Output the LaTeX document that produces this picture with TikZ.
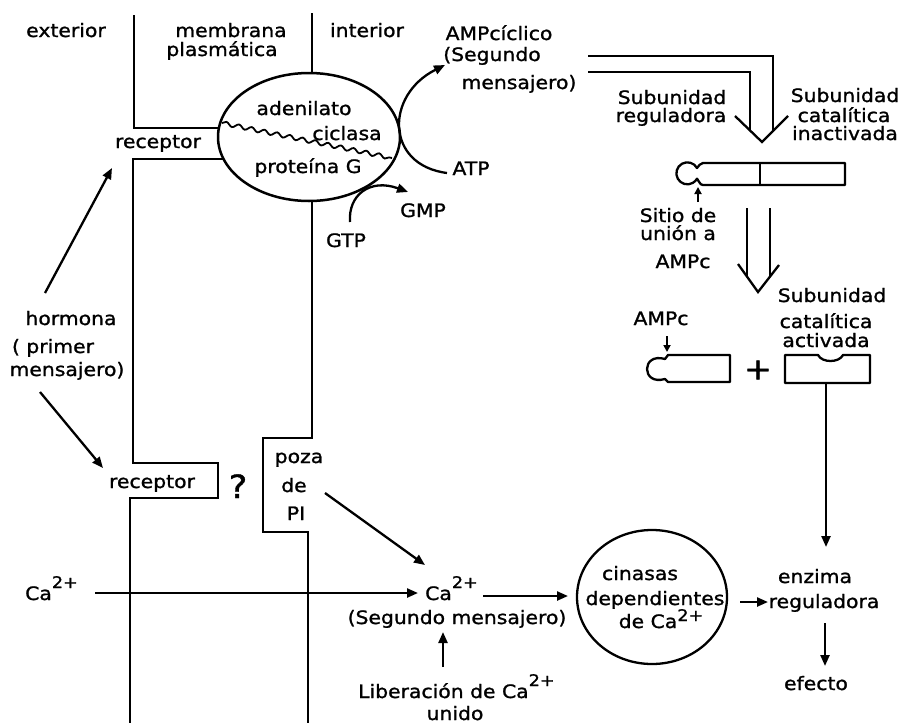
\documentclass[tikz,border=0pt]{standalone}
\usepackage{fontspec}
\setmainfont{DejaVu Sans}[FakeStretch=1.1, FakeBold=1.2]
\usetikzlibrary{arrows.meta,shapes.geometric,decorations.pathmorphing}
\newcommand\supx[1]{\raisebox{12pt}{\fontsize{16}{16}\selectfont #1}}
\newcommand\supl[1]{\raisebox{7pt}{\fontsize{16}{16}\selectfont #1}}
\begin{document}
\begin{tikzpicture}[x=1pt,y=-1pt,
  lbl/.style={anchor=base, inner sep=0pt, font=\fontsize{18.5}{21}\selectfont},
  memb/.style={line width=2.5pt, line join=miter},
  arr/.style={line width=2.3pt, -{Triangle[length=11pt,width=9pt]}},
  sarr/.style={line width=2pt, -{Triangle[length=7pt,width=7pt]}},
  hol/.style={line width=2.3pt, line join=miter},
  prot/.style={line width=2.3pt, line join=round}]
\useasboundingbox (0,0) rectangle (909,723);

% membrane
\node[draw, ellipse, line width=2.5pt, minimum width=182pt, minimum height=128pt, inner sep=0pt] (ac) at (309,137) {};
\draw[memb] (134,15) -- (134,128) -- (219,128);
\draw[memb] (223.5,159) -- (133,159) -- (133,463) -- (218,463) -- (218,498) -- (130,498) -- (130,723);
\draw[memb] (312,13) -- (312,73);
\draw[memb] (312,201) -- (312,438) -- (263,438) -- (263,532) -- (308,532) -- (308,723);
\draw[line width=1.8pt, decorate, decoration={snake, segment length=13pt, amplitude=2pt}] (222,123) -- (392,158);

% labels top-left
\node[lbl] (ext) at (66,37) {exterior};
\node[lbl] (mem1) at (231,37) {membrana};
\node[lbl] (mem2) at (222,56) {plasmática};
\node[lbl] (int) at (367,37) {interior};
\node[lbl] (ad1) at (304,115) {adenilato};
\node[lbl] (ad2) at (347,140) {ciclasa};
\node[lbl] (rec1) at (158,148) {receptor};
\node[lbl] (protg) at (308,173) {proteína G};
\node[lbl] (gmp) at (423,217) {GMP};
\node[lbl] (gtp) at (346,247) {GTP};
\node[lbl] (atp) at (471,175) {ATP};
\node[lbl] (amp1) at (499,40) {AMPcíclico};
\node[lbl] (amp2) at (492,61) {(Segundo};
\node[lbl] (amp3) at (519,89) {mensajero)};

% GTP -> GMP, ATP -> AMPc
\coordinate (gtpS) at (350,222);
\coordinate (gmpE) at (408,192);
\draw[arr] (gtpS) .. controls (348,195) and (370,178) .. (gmpE);
\coordinate (atpS) at (447,173);
\coordinate (ampE) at (445,65);
\draw[arr] (atpS) .. controls (385,165) and (385,95) .. (ampE);

% hollow arrow 1
\draw[hol] (588,56) -- (773,56) -- (773,130);
\draw[hol] (588,72) -- (750,72) -- (750,130);
\draw[hol] (735,116) -- (762,142) -- (788,116);

% right labels
\node[lbl] (sr1) at (672,104) {Subunidad};
\node[lbl] (sr2) at (671,122) {reguladora};
\node[lbl] (sc1) at (845,102) {Subunidad};
\node[lbl] (sc2) at (844,122) {catalítica};
\node[lbl] (sc3) at (845,140) {inactivada};

% inactive complex
\draw[prot] (845,163) -- (703,163) .. controls (700,163) and (699,166) .. (697,168)
  arc[start angle=-29, end angle=-331, radius=11]
  .. controls (699,181) and (700,185) .. (703,185) -- (845,185) -- cycle;
\draw[line width=1.5pt] (760,163) -- (760,185);
\coordinate (sitS) at (698,202);
\coordinate (sitE) at (698,187);
\draw[sarr] (sitS) -- (sitE);
\node[lbl] (sit1) at (678,222) {Sitio de};
\node[lbl] (sit2) at (678,240) {unión a};
\node[lbl] (sit3) at (683,268) {AMPc};

% hollow arrow 2
\draw[hol] (747,208) -- (747,276);
\draw[hol] (770,208) -- (770,276);
\draw[hol] (738,264) -- (758,292) -- (779,265);

% active subunits
\node[lbl] (ampc) at (661,325) {AMPc};
\coordinate (ampcS) at (667,336);
\coordinate (ampcE) at (667,352);
\draw[sarr] (ampcS) -- (ampcE);
\draw[prot] (730,355) -- (668,355) -- (665,359) .. controls (641,352) and (641,386) .. (665,379) -- (668,382) -- (730,382) -- cycle;
\node[inner sep=0pt, font=\fontsize{30}{30}\selectfont] (plus) at (758,370) {+};
\draw[prot] (785,355) -- (818,355) .. controls (822,363) and (839,363) .. (843,355) -- (870,355) -- (870,383) -- (785,383) -- cycle;
\node[lbl] (sa1) at (832,302) {Subunidad};
\node[lbl] (sa2) at (826,328) {catalítica};
\node[lbl] (sa3) at (826,347) {activada};

% hormone
\node[lbl] (h1) at (71,325) {hormona};
\node[lbl] (h2) at (53,353) {( primer};
\node[lbl] (h3) at (67,376) {mensajero)};
\coordinate (hS1) at (45,293);
\coordinate (hE1) at (112,168);
\draw[arr] (hS1) -- (hE1);
\coordinate (hS2) at (40,392);
\coordinate (hE2) at (103,468);
\draw[arr] (hS2) -- (hE2);

% lower receptor and PI
\node[lbl] (rec2) at (152,488) {receptor};
\node[lbl, font=\fontsize{32}{32}\selectfont] (q) at (238,498) {?};
\node[lbl] (pz1) at (299,463) {poza};
\node[lbl] (pz2) at (294,492) {de};
\node[lbl] (pz3) at (296,520) {PI};
\coordinate (pzS) at (325,493);
\coordinate (pzE) at (425,565);
\draw[arr] (pzS) -- (pzE);

% calcium
\node[lbl, anchor=base west] (ca1) at (25,600) {Ca\supx{2+}};
\node[lbl, anchor=base west] (ca2) at (425,600) {Ca\supx{2+}};
\coordinate (caS) at (95,593);
\coordinate (caE) at (418,593);
\draw[arr] (caS) -- (caE);
\node[lbl] (sm) at (457,624) {(Segundo mensajero)};
\coordinate (libS) at (443,667);
\coordinate (libE) at (443,632);
\draw[arr] (libS) -- (libE);
\node[lbl, anchor=base west] (lib1) at (358,698) {Liberación de Ca\supx{2+}};
\node[lbl] (lib2) at (455,720) {unido};

% kinases
\node[draw, ellipse, line width=2.3pt, minimum width=150pt, minimum height=134pt, inner sep=0pt] (cin) at (652,597) {};
\node[lbl] (k1) at (640,580) {cinasas};
\node[lbl] (k2) at (655,605) {dependientes};
\node[lbl] (k3) at (661,628) {de Ca\supl{2+}};
\coordinate (c2S) at (483,596);
\coordinate (c2E) at (568,596);
\draw[arr] (c2S) -- (c2E);
\coordinate (kS) at (740,602);
\coordinate (kE) at (768,602);
\draw[arr] (kS) -- (kE);

% enzyme
\node[lbl] (e1) at (815,583) {enzima};
\node[lbl] (e2) at (824,608) {reguladora};
\node[lbl] (ef) at (816,690) {efecto};
\coordinate (catS) at (826,383);
\coordinate (catE) at (826,547);
\draw[arr] (catS) -- (catE);
\coordinate (efS) at (825,623);
\coordinate (efE) at (825,666);
\draw[arr] (efS) -- (efE);
\end{tikzpicture}
\end{document}
